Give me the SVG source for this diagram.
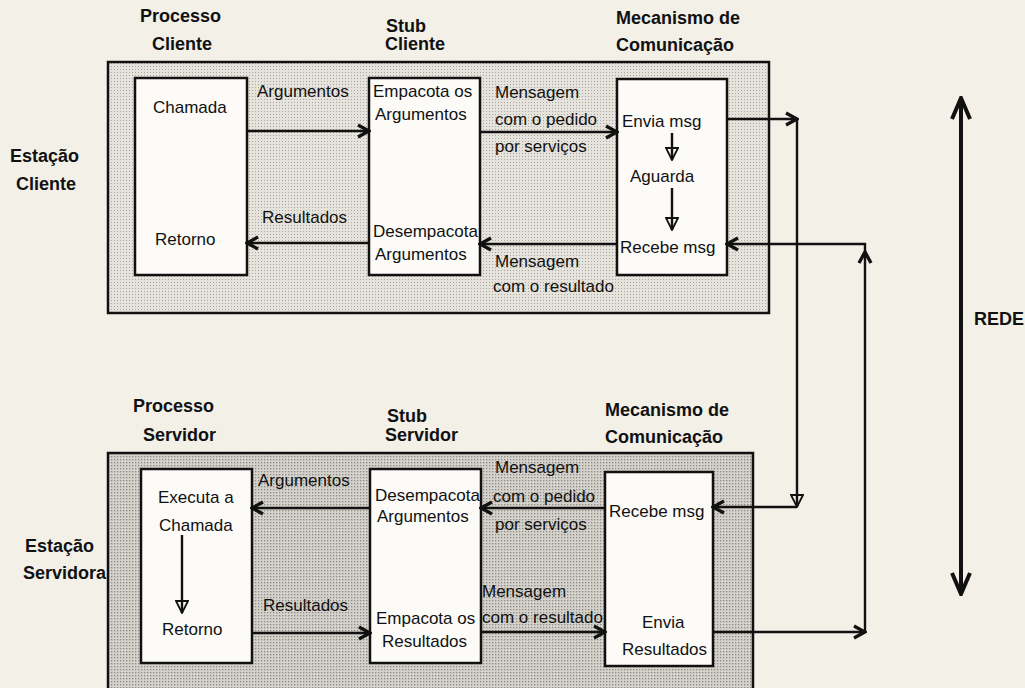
<svg xmlns="http://www.w3.org/2000/svg" width="1025" height="688" viewBox="0 0 1025 688">
<style>
text{font-family:"Liberation Sans",Arial,sans-serif;fill:#111}
.h{font-weight:bold;font-size:18px}
.t{font-size:17px}
.box{fill:#fcfbf8;stroke:#111;stroke-width:2.5}
.ln{fill:none;stroke:#111;stroke-width:2.4}
.rede{fill:none;stroke:#111;stroke-width:4}
</style>
<defs>
<pattern id="dotA" width="3" height="3" patternUnits="userSpaceOnUse">
<rect width="3" height="3" fill="#e6e3dc"/>
<rect width="1" height="1" fill="#a8a6a0"/>
</pattern>
<pattern id="dotB" width="3" height="3" patternUnits="userSpaceOnUse">
<rect width="3" height="3" fill="#d4d2cb"/>
<rect width="1.3" height="1.3" fill="#8c8a85"/>
</pattern>
<marker id="v" viewBox="0 0 16 16" refX="14" refY="8" markerWidth="16" markerHeight="16" markerUnits="userSpaceOnUse" orient="auto">
<path d="M3,2 L14,8 L3,14" fill="none" stroke="#111" stroke-width="3.4"/>
</marker>
<marker id="vb" viewBox="0 0 26 22" refX="24" refY="11" markerWidth="26" markerHeight="22" markerUnits="userSpaceOnUse" orient="auto">
<path d="M3,2 L24,11 L3,20" fill="none" stroke="#111" stroke-width="4"/>
</marker>
<marker id="tri" viewBox="0 0 14 14" refX="13" refY="7" markerWidth="14" markerHeight="14" markerUnits="userSpaceOnUse" orient="auto">
<path d="M1,1 L13,7 L1,13 Z" fill="none" stroke="#111" stroke-width="1.8"/>
</marker>
</defs>
<rect x="0" y="0" width="1025" height="688" fill="#f3f0e8"/>

<g id="estacao-cliente">
<rect x="108" y="62" width="661" height="251" fill="url(#dotA)" stroke="#111" stroke-width="2.5"/>
<text class="h" x="10" y="162">Estação</text>
<text class="h" x="16" y="190">Cliente</text>
</g>
<g id="processo-cliente">
<text class="h" x="140" y="22">Processo</text>
<text class="h" x="152" y="50">Cliente</text>
<rect class="box" x="135" y="78" width="112" height="197"/>
<text class="t" x="153" y="113">Chamada</text>
<text class="t" x="155" y="245">Retorno</text>
</g>
<g id="stub-cliente">
<text class="h" x="386" y="32">Stub</text>
<text class="h" x="385" y="50">Cliente</text>
<rect class="box" x="369" y="78" width="111" height="197"/>
<text class="t" x="373" y="97">Empacota os</text>
<text class="t" x="375" y="120">Argumentos</text>
<text class="t" x="373" y="237">Desempacota</text>
<text class="t" x="375" y="260">Argumentos</text>
</g>
<g id="mecanismo-cliente">
<text class="h" x="616" y="24">Mecanismo de</text>
<text class="h" x="616" y="51">Comunicação</text>
<rect class="box" x="617" y="79" width="110" height="196"/>
<text class="t" x="622" y="127">Envia msg</text>
<text class="t" x="630" y="182">Aguarda</text>
<text class="t" x="620" y="253">Recebe msg</text>
</g>

<g id="estacao-servidora">
<rect x="108" y="453" width="645" height="250" fill="url(#dotB)" stroke="#111" stroke-width="2.5"/>
<text class="h" x="25" y="552">Estação</text>
<text class="h" x="23" y="579">Servidora</text>
</g>
<g id="processo-servidor">
<text class="h" x="133" y="412">Processo</text>
<text class="h" x="143" y="441">Servidor</text>
<rect class="box" x="141" y="469" width="111" height="194"/>
<text class="t" x="158" y="503">Executa a</text>
<text class="t" x="159" y="531">Chamada</text>
<text class="t" x="162" y="635">Retorno</text>
</g>
<g id="stub-servidor">
<text class="h" x="387" y="422">Stub</text>
<text class="h" x="385" y="441">Servidor</text>
<rect class="box" x="370" y="469" width="111" height="194"/>
<text class="t" x="375" y="501">Desempacota</text>
<text class="t" x="377" y="522">Argumentos</text>
<text class="t" x="376" y="624">Empacota os</text>
<text class="t" x="382" y="647">Resultados</text>
</g>
<g id="mecanismo-servidor">
<text class="h" x="605" y="416">Mecanismo de</text>
<text class="h" x="605" y="443">Comunicação</text>
<rect class="box" x="605" y="472" width="108" height="194"/>
<text class="t" x="609" y="517">Recebe msg</text>
<text class="t" x="642" y="628">Envia</text>
<text class="t" x="622" y="655">Resultados</text>
</g>

<g id="rede">
<text class="h" x="974" y="325">REDE</text>
</g>

<g id="connectors">
<path class="ln" d="M247,131 H369" marker-end="url(#v)"/>
<text class="t" x="257" y="97">Argumentos</text>
<path class="ln" d="M369,243 H247" marker-end="url(#v)"/>
<text class="t" x="262" y="223">Resultados</text>
<path class="ln" d="M480,132 H617" marker-end="url(#v)"/>
<text class="t" x="495" y="98">Mensagem</text>
<text class="t" x="495" y="125">com o pedido</text>
<text class="t" x="495" y="152">por serviços</text>
<path class="ln" d="M617,244 H480" marker-end="url(#v)"/>
<text class="t" x="495" y="267">Mensagem</text>
<text class="t" x="493" y="292">com o resultado</text>
<path class="ln" d="M672,133 V160" marker-end="url(#tri)"/>
<path class="ln" d="M672,188 V230" marker-end="url(#tri)"/>
<path class="ln" d="M727,119 H797" marker-end="url(#v)"/>
<path class="ln" d="M797,119 V507" marker-end="url(#tri)"/>
<path class="ln" d="M797,507 H713" marker-end="url(#v)"/>
<path class="ln" d="M713,632 H865" marker-end="url(#v)"/>
<path class="ln" d="M865,632 V252" marker-end="url(#v)"/>
<path class="ln" d="M865,254 V244 H727" marker-end="url(#v)"/>
<path class="ln" d="M370,508 H252" marker-end="url(#v)"/>
<text class="t" x="258" y="486">Argumentos</text>
<path class="ln" d="M252,633 H370" marker-end="url(#v)"/>
<text class="t" x="263" y="611">Resultados</text>
<path class="ln" d="M605,508 H481" marker-end="url(#v)"/>
<text class="t" x="495" y="473">Mensagem</text>
<text class="t" x="493" y="502">com o pedido</text>
<text class="t" x="495" y="530">por serviços</text>
<path class="ln" d="M481,632 H605" marker-end="url(#v)"/>
<text class="t" x="482" y="597">Mensagem</text>
<text class="t" x="482" y="623">com o resultado</text>
<path class="ln" d="M182,535 V613" marker-end="url(#tri)"/>
<path class="rede" d="M961,346 V98" marker-end="url(#vb)"/>
<path class="rede" d="M961,346 V594" marker-end="url(#vb)"/>
</g>
</svg>
